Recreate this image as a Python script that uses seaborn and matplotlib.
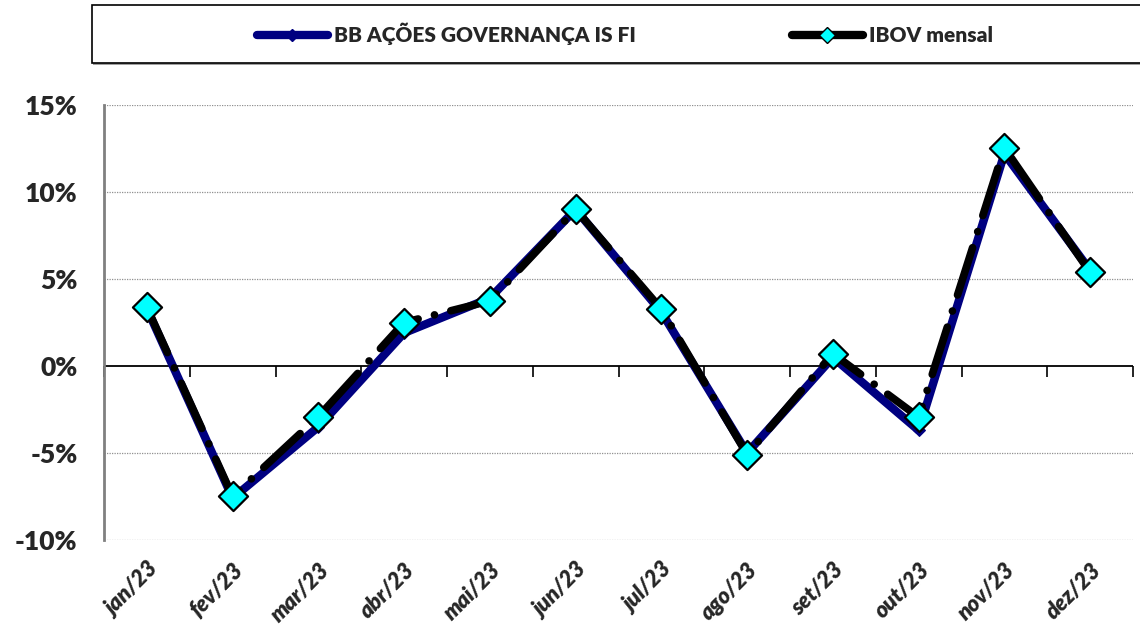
import numpy as np
import pandas as pd
import seaborn as sns
import matplotlib.pyplot as plt
from matplotlib.lines import Line2D
from matplotlib.patches import Rectangle

# monthly returns (%)
months = ['jan/23', 'fev/23', 'mar/23', 'abr/23', 'mai/23', 'jun/23',
          'jul/23', 'ago/23', 'set/23', 'out/23', 'nov/23', 'dez/23']
fund = [3.3, -7.6, -3.5, 1.9, 3.9, 9.0, 3.1, -5.0, 0.5, -3.7, 12.2, 5.5]
ibov = [3.37, -7.49, -2.91, 2.50, 3.74, 9.00, 3.27, -5.09, 0.71, -2.94, 12.54, 5.38]
yticks = [-10, -5, 0, 5, 10, 15]

fund_name = 'BB AÇÕES GOVERNANÇA IS FI'
ibov_name = 'IBOV mensal'

df = pd.DataFrame({'pos': np.arange(len(months)), 'month': months,
                   'fund': fund, 'ibov': ibov})

sns.set_style('white')
plt.rcParams['font.family'] = ['Lato', 'DejaVu Sans']
plt.rcParams['font.weight'] = 'heavy'

fig = plt.figure(figsize=(11.4, 6.31), dpi=100)
ax = fig.add_axes([104 / 1140, 1 - 540 / 631, 1029 / 1140, 435 / 631])

# fund line (navy, underneath)
sns.lineplot(data=df, x='pos', y='fund', ax=ax, color='#000080', lw=6,
             marker='D', markersize=6, markeredgecolor='#000080',
             zorder=3, legend=False)
# ibov line (black dash-dot, cyan diamonds)
sns.lineplot(data=df, x='pos', y='ibov', ax=ax, color='black', lw=5.5,
             zorder=4, legend=False)
ln = ax.lines[-1]
ln.set_dashes([6.5, 2.2, 0.01, 2.2])
ln.set_dash_capstyle('round')
sns.scatterplot(data=df, x='pos', y='ibov', ax=ax, marker='D', s=220,
                color='#00FFFF', edgecolor='black', linewidth=1.6,
                zorder=5, legend=False)

ax.set_xlim(-0.5, len(months) - 0.5)
ax.set_ylim(-10, 15)
ax.set_yticks(yticks)
ax.set_yticklabels([f'{v}%' for v in yticks])
ax.set_xticks(df['pos'])
ax.set_xticklabels(months, rotation=45, ha='right', rotation_mode='anchor',
                   fontsize=16, fontstyle='italic', fontweight='heavy')
ax.tick_params(axis='x', length=0, pad=14)
ax.tick_params(axis='y', length=7, width=1.2, color='#404040', pad=12,
               labelsize=19)
ax.set_xlabel('')
ax.set_ylabel('')

for v in yticks:
    if v != 0:
        ax.axhline(v, color='#909090', lw=0.9, ls=(0, (1, 1)), zorder=1)
ax.axhline(0, color='black', lw=1.3, zorder=2)

for s in ['top', 'right', 'bottom']:
    ax.spines[s].set_visible(False)
ax.spines['left'].set_color('#808080')
ax.spines['left'].set_linewidth(2)

# category boundary ticks on the zero line
sec = ax.secondary_xaxis(0.4)
sec.set_xticks(np.arange(len(months) + 1) - 0.5)
sec.set_xticklabels([])
sec.tick_params(length=8, width=1.2, color='black', direction='out')
sec.spines['bottom'].set_visible(False)

# legend box
fig.patches.append(Rectangle((93 / 1140, 1 - 65 / 631), 1, 58 / 631,
                             transform=fig.transFigure, facecolor='#a0a0a0',
                             edgecolor='none', zorder=0))
fig.patches.append(Rectangle((92 / 1140, 1 - 63 / 631), 1, 58 / 631,
                             transform=fig.transFigure, facecolor='white',
                             edgecolor='black', lw=1.2, zorder=1))
handles = [
    Line2D([], [], color='#000080', lw=6, marker='D', markersize=6,
           markeredgecolor='#000080', solid_capstyle='round'),
    Line2D([], [], color='black', lw=6, marker='D', markersize=8,
           markerfacecolor='#00FFFF', markeredgecolor='black',
           markeredgewidth=1, solid_capstyle='round'),
]
fig.legend(handles, [fund_name, ibov_name], loc='center', ncol=2,
           bbox_to_anchor=(625 / 1140, 1 - 34 / 631), frameon=False,
           handlelength=3.4, handletextpad=0.3, columnspacing=7.5,
           prop={'weight': 'heavy', 'size': 15})

fig.savefig('out.png', dpi=100)
